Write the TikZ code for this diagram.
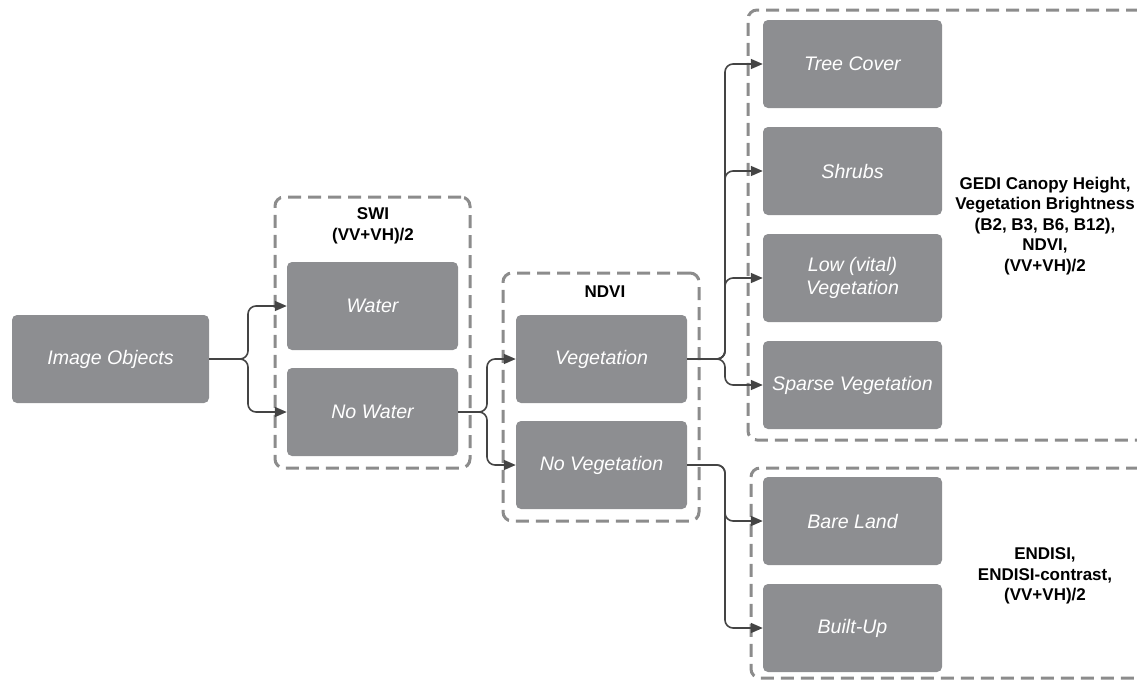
\documentclass[tikz,border=0pt]{standalone}
\usepackage{fontspec}
\setmainfont{Liberation Sans}
\usetikzlibrary{arrows.meta}

\definecolor{boxgray}{HTML}{8D8E91}
\definecolor{dashgray}{HTML}{8C8C8C}
\definecolor{linegray}{HTML}{444444}

\tikzset{
  cls/.style={rectangle, rounded corners=5pt, fill=boxgray, text=white, minimum width=171pt, minimum height=88pt, align=center, font=\fontsize{19.6}{22.5}\selectfont\itshape},
  grp/.style={rectangle, draw=dashgray, line width=3pt, dash pattern=on 13pt off 7pt, rounded corners=9pt},
  lbl/.style={align=center, text=black, font=\fontsize{17}{20.5}\selectfont\bfseries},
  arr/.style={draw=linegray, line width=1.6pt, rounded corners=8pt, -{Triangle[length=12pt,width=10pt]}}
}

\begin{document}
\begin{tikzpicture}[x=1pt, y=-1pt]
    \useasboundingbox (0,0) rectangle (1137,680);
    \clip (0,0) rectangle (1137,680);

    % groups
    \node[grp, minimum width=195pt, minimum height=271pt] (gswi) at (372.5,332.5) {};
    \node[grp, minimum width=196pt, minimum height=248pt] (gndvi) at (601,397) {};
    \node[grp, minimum width=400pt, minimum height=430pt] (gveg) at (948,225) {};
    \node[grp, minimum width=397pt, minimum height=210pt] (gbare) at (949.5,573) {};

    \node[lbl] (lswi) at (373,226) {SWI\\(VV+VH)/2};
    \node[lbl] (lndvi) at (605,292) {NDVI};
    \node[lbl] (lveg) at (1045,226) {GEDI Canopy Height,\\Vegetation Brightness\\(B2, B3, B6, B12),\\NDVI,\\(VV+VH)/2};
    \node[lbl] (lbare) at (1045,576) {ENDISI,\\ENDISI-contrast,\\(VV+VH)/2};

    % classes
    \node[cls, minimum width=197pt] (img) at (110.5,359) {Image Objects};
    \node[cls] (water) at (372.5,306) {Water};
    \node[cls] (nowater) at (372.5,412) {No Water};
    \node[cls] (veg) at (601.5,359) {Vegetation};
    \node[cls] (noveg) at (601.5,465) {No Vegetation};
    \node[cls, minimum width=179pt] (tree) at (852.5,64) {Tree Cover};
    \node[cls, minimum width=179pt] (shrub) at (852.5,171) {Shrubs};
    \node[cls, minimum width=179pt] (low) at (852.5,278) {Low (vital)\\Vegetation};
    \node[cls, minimum width=179pt] (sparse) at (852.5,385) {Sparse Vegetation};
    \node[cls, minimum width=179pt] (bare) at (852.5,521) {Bare Land};
    \node[cls, minimum width=179pt] (built) at (852.5,628) {Built-Up};

    % connectors
    \coordinate (j1) at (248,359);
    \coordinate (j2) at (487,412);
    \coordinate (j3) at (725,359);
    \coordinate (j4) at (725,465);
    \draw[arr] (img.east) -- (j1) |- (water.west);
    \draw[arr] (img.east) -- (j1) |- (nowater.west);
    \draw[arr] (nowater.east) -- (j2) |- (veg.west);
    \draw[arr] (nowater.east) -- (j2) |- (noveg.west);
    \draw[arr] (veg.east) -- (j3) |- (tree.west);
    \draw[arr] (veg.east) -- (j3) |- (shrub.west);
    \draw[arr] (veg.east) -- (j3) |- (low.west);
    \draw[arr] (veg.east) -- (j3) |- (sparse.west);
    \draw[arr] (noveg.east) -- (j4) |- (bare.west);
    \draw[arr] (noveg.east) -- (j4) |- (built.west);
\end{tikzpicture}
\end{document}
